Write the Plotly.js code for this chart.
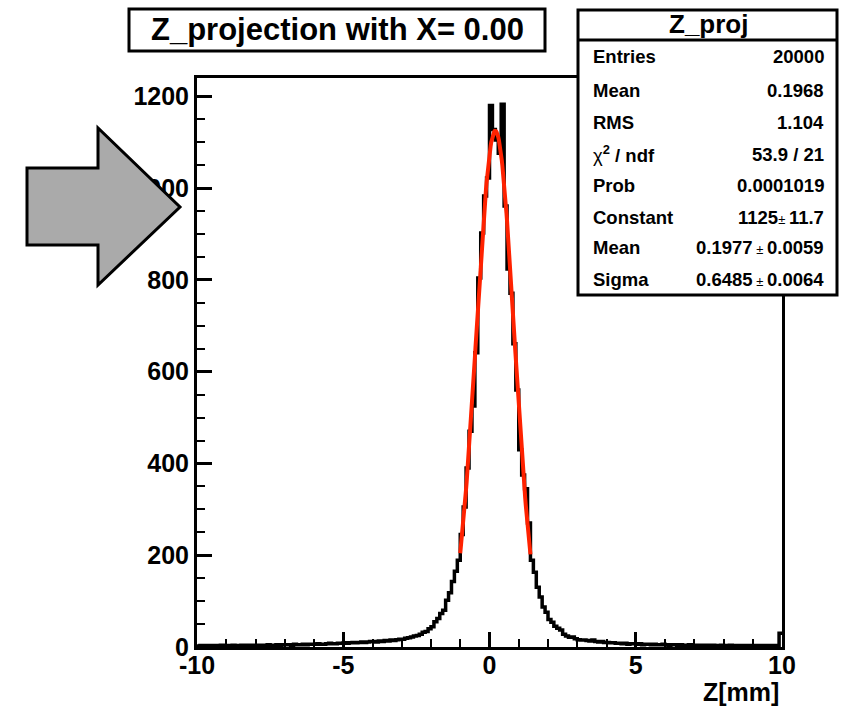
<!DOCTYPE html>
<html>
<head>
<meta charset="utf-8">
<script src="https://cdn.plot.ly/plotly-3.0.1.min.js"></script>
<style>html,body{margin:0;padding:0;background:#fff;}#chart{width:850px;height:708px;}</style>
</head>
<body>
<div id="chart"></div>
<script>
// ---- data ----
const histXmin = -10;
const histXmax = 10;
const histNbins = 200;
const binCounts = [
  2,3,3,2,3,3,2,3,4,3,
  3,3,4,3,3,4,3,4,3,4,
  4,3,4,4,5,4,4,5,4,5,
  5,5,4,6,5,5,6,5,6,6,
  6,7,6,6,7,8,7,7,8,8,
  9,8,9,10,9,10,11,10,11,12,
  12,11,13,12,14,13,15,14,16,17,
  17,19,20,22,24,25,28,32,34,40,
  44,55,62,73,80,102,118,143,165,189,
  245,305,390,470,525,641,804,902,983,1022,
  1180,1128,1105,1076,1183,961,824,771,661,560,
  430,375,345,270,189,163,130,109,87,76,
  60,54,45,41,37,28,24,21,22,18,
  16,15,15,14,13,15,12,11,12,10,
  10,9,9,8,8,7,8,6,7,7,
  6,7,5,6,6,5,6,5,5,6,
  5,4,5,5,4,5,4,4,5,4,
  4,4,3,4,4,3,4,3,3,4,
  3,3,4,3,3,3,2,3,3,3,
  3,2,3,3,2,3,2,3,2,30
];
// Gaussian fit result shown in the stats box
const fitConstant = 1125;
const fitMean = 0.1977;
const fitSigma = 0.6485;
const fitRange = [-1.0, 1.4];
const xTickVals = [-10, -5, 0, 5, 10];
const yTickVals = [0, 200, 400, 600, 800, 1000, 1200];
const statsLabels = ["Entries", "Mean", "RMS", "<span style='font-weight:normal'>&#967;</span><sup>2</sup> / ndf", "Prob", "Constant", "Mean", "Sigma"];
const statsValues = ["20000", "0.1968", "1.104", "53.9 / 21", "0.0001019",
  "1125<span style='font-size:13px;font-weight:normal'>&#177; </span>11.7",
  "0.1977<span style='font-size:13px;font-weight:normal'> &#177; </span>0.0059",
  "0.6485<span style='font-size:13px;font-weight:normal'> &#177; </span>0.0064"];
const histTitle = "Z_projection with X= 0.00";
const statsTitle = "Z_proj";
const xTitle = "Z[mm]";

// ---- build step outline ----
const bw = (histXmax - histXmin) / histNbins;
const hx = [], hy = [];
for (let i = 0; i < histNbins; i++) { hx.push(histXmin + i * bw); hy.push(binCounts[i]); }
hx.push(histXmax); hy.push(binCounts[histNbins - 1]);

const fx = [], fy = [];
const nfp = 120;
for (let i = 0; i <= nfp; i++) {
  const x = fitRange[0] + (fitRange[1] - fitRange[0]) * i / nfp;
  fx.push(x);
  fy.push(fitConstant * Math.exp(-0.5 * Math.pow((x - fitMean) / fitSigma, 2)));
}

// ---- layout helpers (pixel -> paper) ----
const L = 197, R = 782, T = 78, B = 647;
const P = x => (x - L) / (R - L);
const Q = y => (B - y) / (B - T);
const FONT = "Liberation Sans, Arial, Helvetica, sans-serif";

const shapes = [
  // title box
  {type:'rect', xref:'paper', yref:'paper', x0:P(129), x1:P(545), y0:Q(9), y1:Q(51),
   fillcolor:'#fff', line:{color:'#000', width:3}, layer:'above'},
  // stats box
  {type:'rect', xref:'paper', yref:'paper', x0:P(578), x1:P(837), y0:Q(10), y1:Q(295),
   fillcolor:'#fff', line:{color:'#000', width:3}, layer:'above'},
  {type:'line', xref:'paper', yref:'paper', x0:P(578), x1:P(837), y0:Q(40), y1:Q(40),
   line:{color:'#000', width:3}, layer:'above'},
  // arrow
  {type:'path', xref:'paper', yref:'paper', layer:'above',
   path:'M' + P(27) + ',' + Q(168) + ' L' + P(98) + ',' + Q(168) + ' L' + P(98) + ',' + Q(128) +
        ' L' + P(180) + ',' + Q(207) + ' L' + P(98) + ',' + Q(285) + ' L' + P(98) + ',' + Q(245) +
        ' L' + P(27) + ',' + Q(245) + ' Z',
   fillcolor:'#aaaaaa', line:{color:'#000', width:3}}
];

const annotations = [
  {xref:'paper', yref:'paper', x:P(337), y:Q(30), xanchor:'center', yanchor:'middle', showarrow:false,
   text:'<b>' + histTitle + '</b>', font:{family:FONT, size:31, color:'#000'}},
  {xref:'paper', yref:'paper', x:P(708), y:Q(24), xanchor:'center', yanchor:'middle', showarrow:false,
   text:'<b>' + statsTitle + '</b>', font:{family:FONT, size:26, color:'#000'}},
  {xref:'paper', yref:'paper', x:P(781), y:Q(692), xanchor:'right', yanchor:'middle', showarrow:false,
   text:'<b>' + xTitle + '</b>', font:{family:FONT, size:25, color:'#000'}}
];
const rowY = [57, 91, 122, 154, 185, 217, 248, 279];
for (let i = 0; i < statsLabels.length; i++) {
  annotations.push({xref:'paper', yref:'paper', x:P(591), y:Q(rowY[i]), xanchor:'left', yanchor:'middle',
    showarrow:false, text:'<b>' + statsLabels[i] + '</b>', font:{family:FONT, size:18.5, color:'#000'}});
  annotations.push({xref:'paper', yref:'paper', x:P(826), y:Q(rowY[i]), xanchor:'right', yanchor:'middle',
    showarrow:false, text:'<b>' + statsValues[i] + '</b>', font:{family:FONT, size:18.5, color:'#000'}});
}

const data = [
  {type:'scatter', mode:'lines', x:hx, y:hy, line:{shape:'hv', color:'#000', width:3.5}, hoverinfo:'skip'},
  {type:'scatter', mode:'lines', x:fx, y:fy, line:{color:'#ff2200', width:4}, hoverinfo:'skip'}
];

const layout = {
  width:850, height:708,
  margin:{l:L, r:850 - R, t:T, b:708 - B, pad:0},
  paper_bgcolor:'#fff', plot_bgcolor:'#fff',
  showlegend:false,
  xaxis:{range:[histXmin, histXmax], tickvals:xTickVals, ticktext:xTickVals.map(String),
    ticks:'inside', ticklen:15, tickwidth:3, tickcolor:'#000', ticklabelstandoff:-6,
    minor:{dtick:1, ticks:'inside', ticklen:8, tickwidth:2, tickcolor:'#000'},
    showline:true, linewidth:3, linecolor:'#000', mirror:true, showgrid:false, zeroline:false,
    tickfont:{family:FONT, size:25, color:'#000', weight:'bold'}, fixedrange:true},
  yaxis:{range:[0, 1240], tickvals:yTickVals, ticktext:yTickVals.map(String),
    ticks:'inside', ticklen:15, tickwidth:3, tickcolor:'#000',
    minor:{dtick:50, ticks:'inside', ticklen:8, tickwidth:2, tickcolor:'#000'},
    showline:true, linewidth:3, linecolor:'#000', mirror:true, showgrid:false, zeroline:false,
    tickfont:{family:FONT, size:25, color:'#000', weight:'bold'}, fixedrange:true},
  shapes:shapes, annotations:annotations
};

Plotly.newPlot('chart', data, layout, {displayModeBar:false, staticPlot:true});
</script>
</body>
</html>
